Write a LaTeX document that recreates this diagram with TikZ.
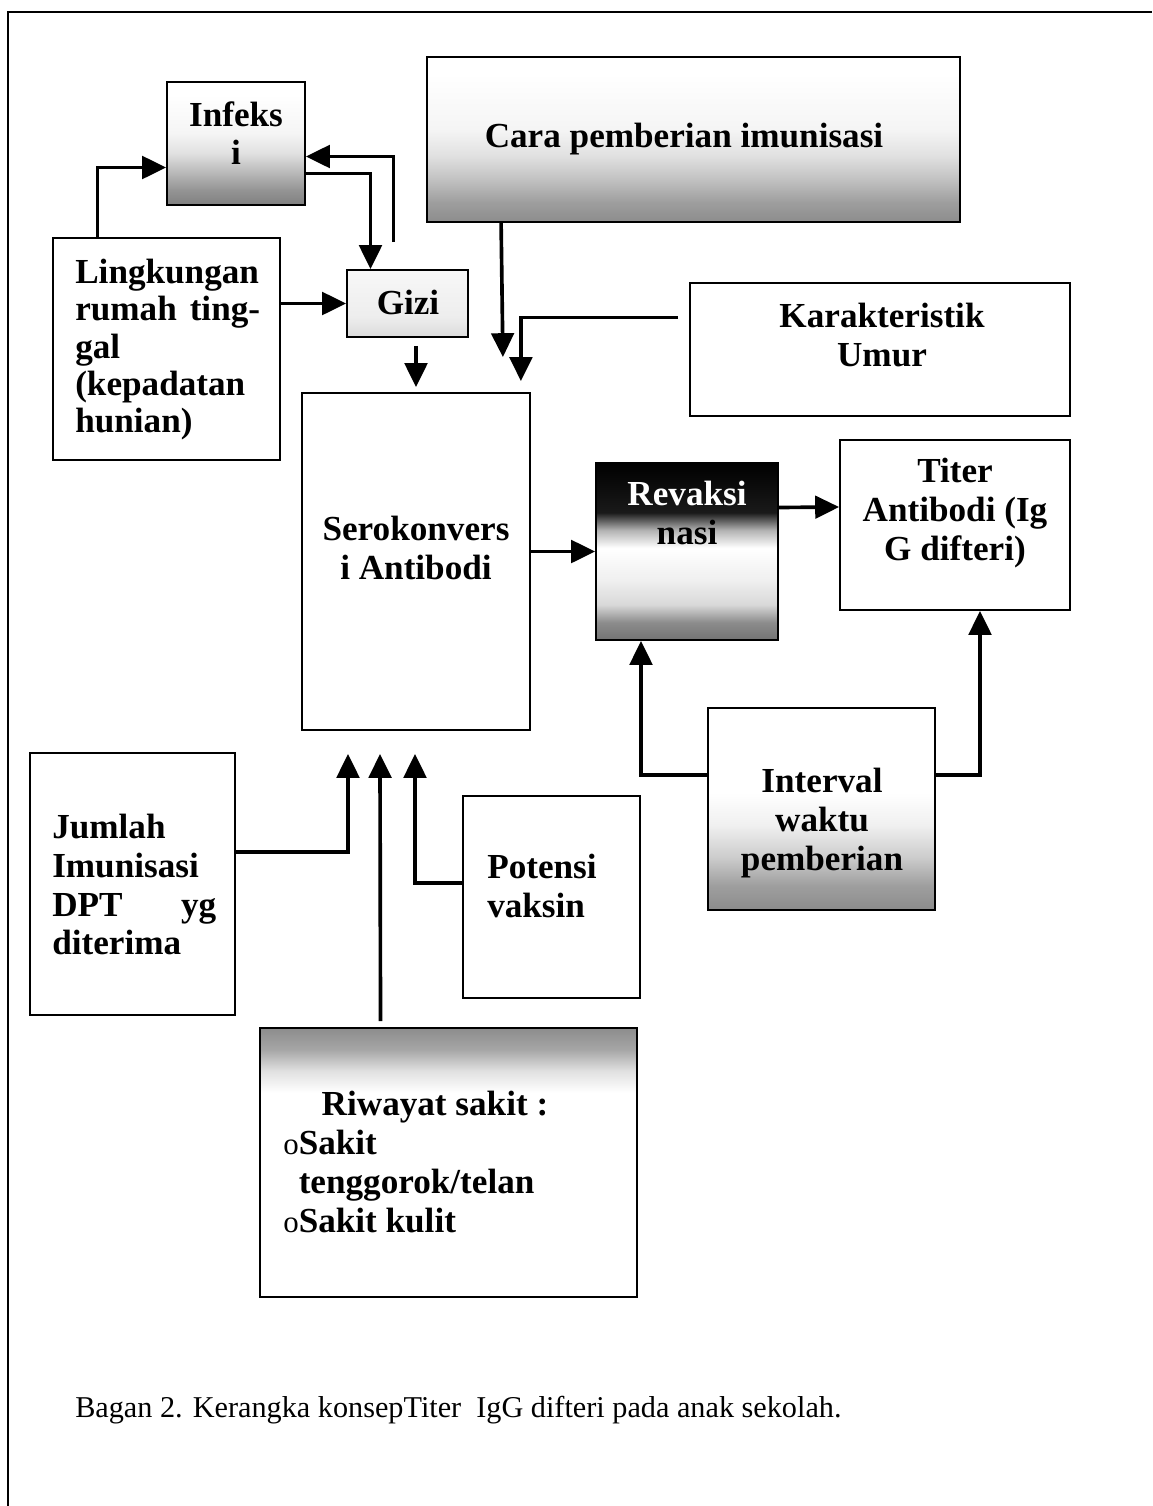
\documentclass[tikz,border=0pt]{standalone}
\usepackage{fontspec}
\setmainfont{Liberation Serif}
\usetikzlibrary{positioning, calc, fit, arrows.meta}

% gradasi kotak (bawah ke atas, bagian 25bp..75bp yang terpakai)
\pgfdeclareverticalshading{infekshade}{100bp}{color(0bp)=(black!50); color(25bp)=(black!50); color(31bp)=(black!42); color(38bp)=(black!28); color(46bp)=(black!12); color(54bp)=(black!4); color(70bp)=(white); color(100bp)=(white)}
\pgfdeclareverticalshading{carashade}{100bp}{color(0bp)=(black!45); color(25bp)=(black!45); color(31bp)=(black!38); color(38bp)=(black!24); color(45bp)=(black!12); color(53bp)=(black!4); color(70bp)=(white); color(100bp)=(white)}
\pgfdeclareverticalshading{gizishade}{100bp}{color(0bp)=(black!14); color(25bp)=(black!14); color(40bp)=(black!7); color(75bp)=(black!3); color(100bp)=(black!3)}
\pgfdeclareverticalshading{revshade}{100bp}{color(0bp)=(black!55); color(25bp)=(black!55); color(30bp)=(black!45); color(35bp)=(black!15); color(42bp)=(black!6); color(51bp)=(white); color(56bp)=(black!30); color(61bp)=(black!90); color(75bp)=(black); color(100bp)=(black)}
\pgfdeclareverticalshading{intervshade}{100bp}{color(0bp)=(black!45); color(25bp)=(black!45); color(31bp)=(black!38); color(38bp)=(black!20); color(46bp)=(black!6); color(54bp)=(white); color(75bp)=(white); color(100bp)=(white)}
\pgfdeclareverticalshading{riwshade}{100bp}{color(0bp)=(white); color(25bp)=(white); color(63bp)=(white); color(67bp)=(black!12); color(71bp)=(black!35); color(75bp)=(black!45); color(100bp)=(black!45)}

\newcommand{\bul}{{\mdseries\fontsize{22}{22}\selectfont o}}

\begin{document}
\begin{tikzpicture}[x=0.025cm, y=-0.025cm,
    box/.style={draw, line width=1.3pt, inner sep=0pt},
    judul/.style={font=\fontsize{25}{27.5}\selectfont\bfseries, inner sep=0pt, align=center},
    panah/.style={line width=2.6pt, -{Triangle[length=17pt, width=16pt]}}
]

\useasboundingbox (0,0) rectangle (1152,1506);
% bingkai
\draw[line width=1.3pt] (8,1506) -- (8,12) -- (1152,12);

% kotak
\node[box, shade, shading=infekshade, fit={(167,82) (305,205)}] (infek) {};
\node[box, shade, shading=carashade, fit={(427,57) (960,222)}] (cara) {};
\node[box, fit={(53,238) (280,460)}] (lingk) {};
\node[box, shade, shading=gizishade, fit={(347,270) (468,337)}] (gizi) {};
\node[box, fit={(690,283) (1070,416)}] (karakt) {};
\node[box, fit={(302,393) (530,730)}] (sero) {};
\node[box, shade, shading=revshade, fit={(596,463) (778,640)}] (rev) {};
\node[box, fit={(840,440) (1070,610)}] (titer) {};
\node[box, shade, shading=intervshade, fit={(708,708) (935,910)}] (interv) {};
\node[box, fit={(30,753) (235,1015)}] (jumlah) {};
\node[box, fit={(463,796) (640,998)}] (potensi) {};
\node[box, shade, shading=riwshade, fit={(260,1028) (637,1297)}] (riwayat) {};

% teks
\node[judul, anchor=north] (infekT) at (236,101) {Infeks\\i};
\node[judul, anchor=north] (caraT) at (684,123) {Cara pemberian imunisasi};
\node[judul, anchor=north west, align=left, font=\fontsize{25}{26.5}\selectfont\bfseries] (lingkT) at (75,259) {Lingkungan\\\makebox[4.62cm][s]{rumah ting-}\\gal\\(kepadatan\\hunian)};
\node[judul, anchor=base] (giziT) at (408,314) {Gizi};
\node[judul, anchor=north] (karaktT) at (882,303) {Karakteristik\\Umur};
\node[judul, anchor=north] (seroT) at (416,516) {Serokonvers\\i Antibodi};
\node[judul, anchor=north, text=white] (revT) at (687,481) {Revaksi\\\textcolor{black}{nasi}};
\node[judul, anchor=north] (titerT) at (955,458) {Titer\\Antibodi (Ig\\G difteri)};
\node[judul, anchor=north] (intervT) at (822,768) {Interval\\waktu\\pemberian};
\node[judul, anchor=north west, align=left] (jumlahT) at (52,814) {Jumlah\\Imunisasi\\\makebox[4.1cm][s]{DPT yg}\\diterima};
\node[judul, anchor=north west, align=left] (potensiT) at (487,854) {Potensi\\vaksin};
\node[judul, anchor=north] (riwT) at (435,1091) {Riwayat sakit :};
\node[judul, anchor=north west, align=left] (riwL) at (283,1130) {\bul Sakit\\\phantom{\bul}tenggorok/telan\\\bul Sakit kulit};

\node[anchor=base west, inner sep=0pt, font=\fontsize{21.5}{24}\selectfont] (bagan) at (75,1417) {Bagan 2. Kerangka konsepTiter\ \ IgG difteri pada anak sekolah.};

% panah
\draw[panah] ($(lingk.north)+(-69,0)$) |- ($(infek.west)+(0,24)$);
\draw[panah] ($(infek.east)+(0,30)$) -| ($(gizi.north)+(-37,0)$);
\draw[panah] ($(gizi.north)+(-14,-27)$) |- ($(infek.east)+(0,13)$);
\draw[panah] (lingk.east |- gizi.west) -- (gizi.west);
\draw[panah] ($(sero.north |- gizi.south)+(0,8)$) -- ($(sero.north)+(0,-5)$);
\draw[panah] ($(cara.south west)+(75,0)$) -- ($(sero.north east)+(-28,-35)$);
\draw[panah] ($(karakt.west)+(-11,-32)$) -| ($(sero.north east)+(-10,-11)$);
\draw[panah] (sero.east |- rev.west) -- (rev.west);
\draw[panah] ($(rev.east)+(0,-44)$) -- ($(titer.west)+(0,-18)$);
\draw[panah] ($(interv.west)+(0,-34)$) -| ($(rev.south)+(-46,0)$);
\draw[panah] ($(interv.east)+(0,-34)$) -| ($(titer.south)+(25,0)$);
\draw[panah] ($(jumlah.east)+(0,-32)$) -| ($(sero.south)+(-68,23)$);
\draw[panah] ($(riwayat.north)+(-68,-6)$) -- ($(sero.south)+(-36,23)$);
\draw[panah] ($(potensi.west)+(0,-14)$) -| ($(sero.south)+(-1,23)$);

\end{tikzpicture}
\end{document}
